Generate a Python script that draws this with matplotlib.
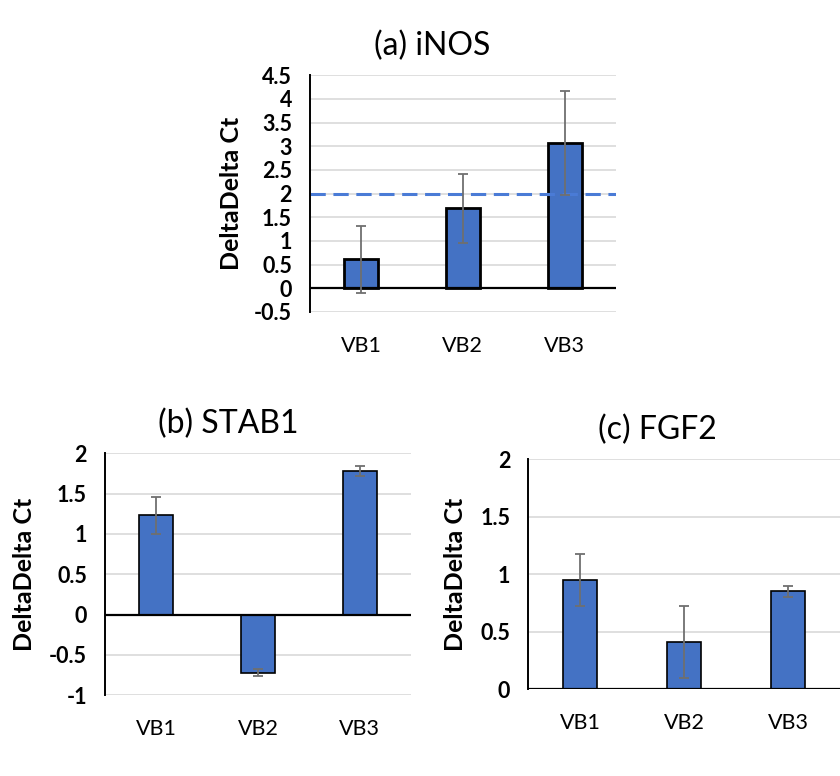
import matplotlib
matplotlib.use("Agg")
import matplotlib.pyplot as plt
import numpy as np

CATEGORIES = ["VB1", "VB2", "VB3"]

INOS = [0.61, 1.69, 3.07]
INOS_ERR = [0.71, 0.73, 1.09]
INOS_TICKS = [-0.5, 0, 0.5, 1, 1.5, 2, 2.5, 3, 3.5, 4, 4.5]
THRESHOLD = 2

STAB1 = [1.23, -0.72, 1.78]
STAB1_ERR = [0.23, 0.04, 0.06]
STAB1_TICKS = [-1, -0.5, 0, 0.5, 1, 1.5, 2]

FGF2 = [0.95, 0.41, 0.85]
FGF2_ERR = [0.23, 0.31, 0.05]
FGF2_TICKS = [0, 0.5, 1, 1.5, 2]

BAR_COLOR = "#4472C4"
GRID_COLOR = "#d9d9d9"
ERR_COLOR = "#6f6f6f"

plt.rcParams["font.family"] = ["Lato", "DejaVu Sans"]


def fmt(v):
    return f"{v:g}"


def draw_panel(fig, rect, values, errors, ticks, title, title_x, edge_lw,
               ylabel_x):
    ax = fig.add_axes(rect)
    x = np.arange(len(CATEGORIES))
    ax.set_xlim(-0.5, len(CATEGORIES) - 0.5)
    ax.set_ylim(ticks[0], ticks[-1])

    for t in ticks:
        ax.axhline(t, color=GRID_COLOR, lw=1.2, zorder=0)
    ax.axhline(0, color="black", lw=1.6, zorder=3)

    ax.bar(x, values, width=0.33, color=BAR_COLOR, edgecolor="black",
           linewidth=edge_lw, zorder=2)
    ax.errorbar(x, values, yerr=errors, fmt="none", ecolor=ERR_COLOR,
                elinewidth=1.3, capsize=3.5, capthick=1.3, zorder=4)

    for side in ["top", "right", "bottom"]:
        ax.spines[side].set_visible(False)
    ax.spines["left"].set_linewidth(1.4)
    ax.spines["left"].set_zorder(5)

    ax.set_yticks(ticks)
    ax.set_yticklabels([fmt(t) for t in ticks], fontsize=15.5,
                       fontweight="bold")
    ax.set_xticks(x)
    ax.set_xticklabels(CATEGORIES, fontsize=15.5)
    ax.tick_params(axis="y", length=0, pad=13)
    ax.tick_params(axis="x", length=0, pad=17)

    ax.set_ylabel("DeltaDelta Ct", fontsize=18, fontweight="bold",
                  va="center")
    ax.yaxis.set_label_coords(ylabel_x, 0.5)

    ax.text(title_x, 1.0 + 20 / (rect[3] * 776), title,
            transform=ax.transAxes, ha="center", va="baseline", fontsize=23)
    return ax


fig = plt.figure(figsize=(8.4, 7.76), dpi=100)

ax_a = draw_panel(fig, [0.369, 0.598, 0.364, 0.305], INOS, INOS_ERR,
                  INOS_TICKS, "(a) iNOS", 0.399, 2.0, -0.255)
ax_a.axhline(THRESHOLD, color="#4a7bd6", lw=2.2, ls=(0, (5, 2.5)), zorder=3)

draw_panel(fig, [0.125, 0.104, 0.364, 0.312], STAB1, STAB1_ERR,
           STAB1_TICKS, "(b) STAB1", 0.402, 1.2, -0.262)

draw_panel(fig, [0.629, 0.112, 0.371, 0.296], FGF2, FGF2_ERR,
           FGF2_TICKS, "(c) FGF2", 0.413, 1.2, -0.234)

fig.savefig("out.png", dpi=100)
